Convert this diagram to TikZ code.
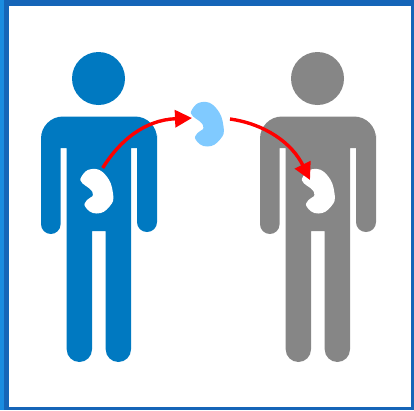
\documentclass[tikz,border=0pt]{standalone}
\usepackage{tikz}
\usetikzlibrary{positioning, arrows.meta}

\definecolor{frameBlue}{HTML}{1565B8}
\definecolor{frameLight}{HTML}{1A8CE0}
\definecolor{donorBlue}{HTML}{0079C1}
\definecolor{kidneyBlue}{HTML}{80CAFF}
\definecolor{patientGrey}{HTML}{868686}

\begin{document}
\begin{tikzpicture}[
    x=1pt, y=-1pt,
    transfer/.style={-{Triangle[length=17pt, width=17pt]}, line width=3.4pt, red}
]

% Person and kidney definitions
\tikzset{
    person/.pic={
        \path[pic actions] (-0.5, -38.5) circle (26.5);
        \path[pic actions] (0, -0.5) [rounded corners=22pt] -- (58, -0.5) -- (58, 40)
            [rounded corners=9.9pt] -- (58, 115) -- (38, 115)
            [sharp corners] -- (38, 31) -- (32, 31)
            [rounded corners=12.6pt] -- (32, 245) -- (6.7, 245)
            [sharp corners] -- (6.7, 114) -- (-7, 114)
            [rounded corners=12.6pt] -- (-7, 245) -- (-32.3, 245)
            [sharp corners] -- (-32.3, 31) -- (-38.4, 31)
            [rounded corners=9.8pt] -- (-38.4, 117) -- (-58, 117) -- (-58, 40)
            [rounded corners=22pt] -- (-58, -0.5) -- cycle;
    },
    kidney/.pic={
        \coordinate (-top) at (5.7, -23);
        \coordinate (-entry) at (-8.5, -11);
        \coordinate (-in) at (-15.5, -6);
        \coordinate (-out) at (22.5, -5);
        \path[pic actions] plot[smooth cycle, tension=0.85] coordinates {
            (-15.6, -14.3) (-5.3, -22) (8.5, -16) (16, 2.3) (12.5, 15.5) (-0.3, 22.5)
            (-11.6, 16) (-10, 9) (-4, 4) (-7.7, -2.7) (-14.6, -7.7)};
    }
}

\useasboundingbox (0, 0) rectangle (414, 410);

% Frame
\fill[frameBlue] (0, 0) rectangle (414, 6);
\fill[frameBlue] (0, 407) rectangle (414, 410);
\fill[frameBlue] (411, 0) rectangle (414, 410);
\fill[frameBlue] (4, 0) rectangle (9, 410);
\fill[frameLight] (0, 0) rectangle (4, 410);

\pic[fill=donorBlue] (DonorPic) at (99, 117) {person};
\pic[fill=patientGrey] (PatientPic) at (318, 117) {person};

\pic[fill=white] (DonorKidney) at (97, 191) {kidney};
\pic[fill=kidneyBlue] (MovedKidney) at (207.5, 124) {kidney};
\pic[fill=white] (PatientKidney) at (318.5, 191) {kidney};

\draw[transfer] (DonorKidney-top) .. controls (120, 140) and (145, 120) .. (MovedKidney-in);
\draw[transfer] (MovedKidney-out) .. controls (265, 124) and (292, 143) .. (PatientKidney-entry);

\end{tikzpicture}
\end{document}
